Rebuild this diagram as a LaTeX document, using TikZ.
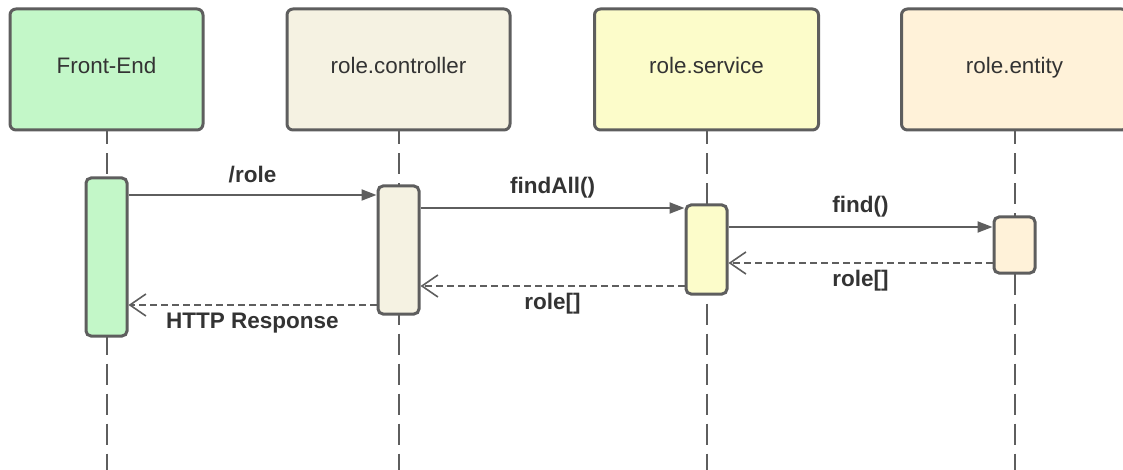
\documentclass[tikz,border=0pt]{standalone}
\usepackage{fontspec}
\setmainfont{Liberation Sans}
\usetikzlibrary{arrows.meta}

\definecolor{edge}{HTML}{5E5E5E}
\definecolor{ink}{HTML}{333333}
\definecolor{feFill}{HTML}{C3F7C8}
\definecolor{ctlFill}{HTML}{F5F2E2}
\definecolor{svcFill}{HTML}{FCFCCA}
\definecolor{entFill}{HTML}{FFF2D9}

\tikzset{
  header/.style={draw=edge, line width=3pt, rounded corners=6pt,
    minimum height=121pt, inner sep=0pt, text=ink,
    text height=16pt, text depth=7pt,
    font=\fontsize{22.4}{26}\selectfont},
  activation/.style={draw=edge, line width=3pt, rounded corners=5pt,
    minimum width=41pt, inner sep=0pt},
  lifeline/.style={draw=edge, line width=2pt, dash pattern=on 21pt off 9pt, dash phase=8pt},
  call/.style={draw=edge, line width=2pt, -{Triangle[length=15pt,width=11pt]}},
  reply/.style={draw=edge, line width=2pt, dash pattern=on 7pt off 4pt,
    -{Straight Barb[length=16pt,width=22pt,line width=1.6pt]}},
  msg/.style={text=ink, font=\bfseries\fontsize{22.5}{26}\selectfont,
    inner sep=0pt, text height=16pt, text depth=0pt},
}

\begin{document}
\begin{tikzpicture}[x=1pt, y=-1pt]
  \useasboundingbox (0,0) rectangle (1123,470);
  \clip (0,0) rectangle (1123,470);

  % participant headers
  \node[header, fill=feFill,  minimum width=193pt] (fe)  at (106.5,69.5) {Front-End};
  \node[header, fill=ctlFill, minimum width=223pt] (ctl) at (398.5,69.5) {role.controller};
  \node[header, fill=svcFill, minimum width=224pt] (svc) at (706.5,69.5) {role.service};
  \node[header, fill=entFill, minimum width=226pt] (ent) at (1014.5,69.5) {role.entity};

  % end points of the lifelines at the bottom edge
  \coordinate (feEnd)  at (106.5,472);
  \coordinate (ctlEnd) at (398.5,472);
  \coordinate (svcEnd) at (706.5,472);
  \coordinate (entEnd) at (1014.5,472);

  % lifelines (drawn behind the activation bars)
  \draw[lifeline] (fe.south)  -- (feEnd);
  \draw[lifeline] (ctl.south) -- (ctlEnd);
  \draw[lifeline] (svc.south) -- (svcEnd);
  \draw[lifeline] (ent.south) -- (entEnd);

  % activation bars
  \node[activation, fill=feFill,  minimum height=158pt] (feA)  at (106.5,257) {};
  \node[activation, fill=ctlFill, minimum height=128pt] (ctlA) at (398.5,250) {};
  \node[activation, fill=svcFill, minimum height=89pt]  (svcA) at (706.5,249.5) {};
  \node[activation, fill=entFill, minimum height=56pt]  (entA) at (1014.5,245) {};

  % calls
  \draw[call] (feA.east |- 0,195) -- (ctlA.west |- 0,195)
    node[msg, midway, yshift=20pt] {/role};
  \draw[call] (ctlA.east |- 0,208) -- (svcA.west |- 0,208)
    node[msg, midway, yshift=22pt] {findAll()};
  \draw[call] (svcA.east |- 0,227) -- (entA.west |- 0,227)
    node[msg, midway, yshift=22pt] {find()};

  % replies
  \draw[reply] (entA.west |- 0,263) -- (svcA.east |- 0,263)
    node[msg, midway, yshift=-15.5pt] {role[]};
  \draw[reply] (svcA.west |- 0,286) -- (ctlA.east |- 0,286)
    node[msg, midway, yshift=-15.5pt] {role[]};
  \draw[reply] (ctlA.west |- 0,305) -- (feA.east |- 0,305)
    node[msg, midway, yshift=-15.5pt] {HTTP Response};
\end{tikzpicture}
\end{document}
